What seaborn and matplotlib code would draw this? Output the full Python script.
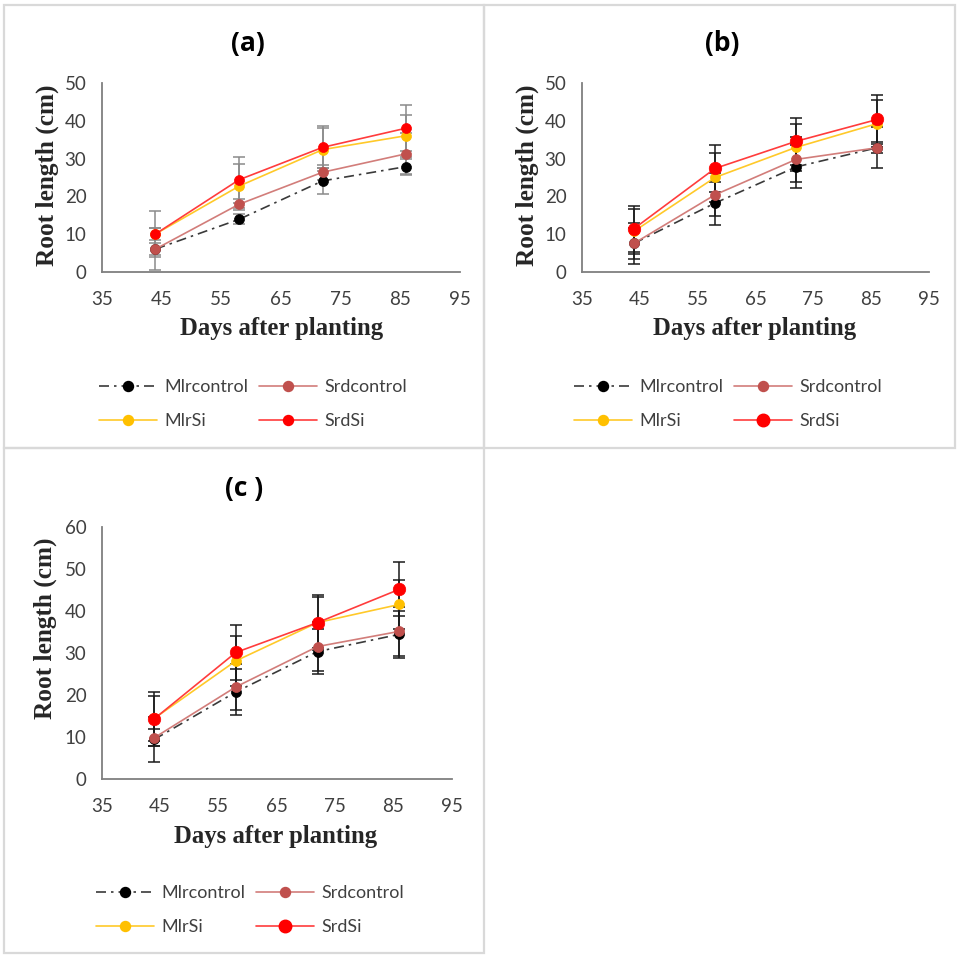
import matplotlib
matplotlib.use("Agg")
import matplotlib.pyplot as plt
from matplotlib.lines import Line2D
import seaborn as sns
import numpy as np
import pandas as pd

sns.set_style("white")
plt.rcParams['font.family'] = ['Lato', 'DejaVu Sans']

# ---------------- data ----------------
days = [44, 58, 72, 86]
series = ["Mlrcontrol", "Srdcontrol", "MlrSi", "SrdSi"]

# panel (a)
a_mlrcontrol = [6.0, 13.9, 24.1, 27.9]
a_srdcontrol = [6.0, 17.9, 26.4, 31.3]
a_mlrsi = [10.0, 22.7, 32.4, 36.1]
a_srdsi = [10.0, 24.4, 33.0, 38.1]
a_err_mlrcontrol = [1.5, 1.3, 3.5, 2.1]
a_err_srdcontrol = [5.6, 1.5, 2.0, 5.6]
a_err_mlrsi = [1.5, 5.9, 5.8, 5.6]
a_err_srdsi = [6.0, 6.1, 5.6, 6.1]

# panel (b)
b_mlrcontrol = [7.5, 18.2, 27.8, 32.9]
b_srdcontrol = [7.5, 20.4, 29.8, 32.9]
b_mlrsi = [10.7, 25.0, 33.0, 39.3]
b_srdsi = [11.4, 27.4, 34.6, 40.4]
b_err_mlrcontrol = [5.5, 5.7, 5.7, 5.5]
b_err_srdcontrol = [4.2, 5.7, 6.0, 1.4]
b_err_mlrsi = [6.0, 6.4, 6.3, 6.3]
b_err_srdsi = [6.1, 6.3, 6.3, 6.4]

# panel (c)
c_mlrcontrol = [9.4, 20.7, 30.3, 34.4]
c_srdcontrol = [9.8, 21.9, 31.5, 35.1]
c_mlrsi = [14.4, 28.1, 37.2, 41.5]
c_srdsi = [14.3, 30.1, 37.2, 45.1]
c_err_mlrcontrol = [5.4, 5.4, 5.3, 5.6]
c_err_srdcontrol = [2.0, 5.5, 5.8, 5.9]
c_err_mlrsi = [5.3, 5.9, 6.0, 5.9]
c_err_srdsi = [6.5, 6.5, 6.5, 6.4]

panel_titles = ["(a)", "(b)", "(c )"]
x_ticks = [35, 45, 55, 65, 75, 85, 95]
y_ticks_ab = [0, 10, 20, 30, 40, 50]
y_ticks_c = [0, 10, 20, 30, 40, 50, 60]

# ---------------- styles ----------------
marker_colors = {"Mlrcontrol": "#000000", "Srdcontrol": "#C0504D",
                 "MlrSi": "#FFC000", "SrdSi": "#FF0000"}
line_colors = {"Mlrcontrol": "#3a3a3a", "Srdcontrol": "#D27D7A",
               "MlrSi": "#FFC929", "SrdSi": "#FF3C3C"}
line_styles = {"Mlrcontrol": (0, (6, 3, 1.5, 3)), "Srdcontrol": "-",
               "MlrSi": "-", "SrdSi": "-"}

W, H = 957, 955
fig = plt.figure(figsize=(W / 100, H / 100), dpi=100)

def fx(px):
    return px / W

def fy(py):
    return 1 - py / H

# panel borders
border_col = "#d9d9d9"
for (x0, y0, x1, y1) in [(4, 5, 484, 448), (484, 5, 955, 448), (4, 448, 484, 953)]:
    fig.add_artist(plt.Rectangle((fx(x0), fy(y1)), fx(x1 - x0), (y1 - y0) / H,
                                 transform=fig.transFigure, fill=False,
                                 edgecolor=border_col, linewidth=1.6, zorder=0))

panels = [
    dict(vals=[a_mlrcontrol, a_srdcontrol, a_mlrsi, a_srdsi],
         errs=[a_err_mlrcontrol, a_err_srdcontrol, a_err_mlrsi, a_err_srdsi],
         ax_px=(101.7, 83.3, 460.0, 271.7), yticks=y_ticks_ab, ylim=50,
         err_color="#8a8a8a", big_srdsi=False,
         title_xy=(248, 43), ylab_xy=(47, 175), xlab_xy=(282, 329), leg_xy=(253, 404)),
    dict(vals=[b_mlrcontrol, b_srdcontrol, b_mlrsi, b_srdsi],
         errs=[b_err_mlrcontrol, b_err_srdcontrol, b_err_mlrsi, b_err_srdsi],
         ax_px=(581.7, 83.3, 929.3, 271.7), yticks=y_ticks_ab, ylim=50,
         err_color="#1a1a1a", big_srdsi=True,
         title_xy=(722, 43), ylab_xy=(527, 175), xlab_xy=(755, 329), leg_xy=(728, 404)),
    dict(vals=[c_mlrcontrol, c_srdcontrol, c_mlrsi, c_srdsi],
         errs=[c_err_mlrcontrol, c_err_srdcontrol, c_err_mlrsi, c_err_srdsi],
         ax_px=(101.7, 526.7, 451.7, 779.0), yticks=y_ticks_c, ylim=60,
         err_color="#1a1a1a", big_srdsi=True,
         title_xy=(244, 488), ylab_xy=(45, 628), xlab_xy=(276, 836), leg_xy=(250, 910)),
]

serif = ['Liberation Serif', 'DejaVu Serif']
legend_order = ["Mlrcontrol", "MlrSi", "Srdcontrol", "SrdSi"]

for title, p in zip(panel_titles, panels):
    x0, y0, x1, y1 = p["ax_px"]
    ax = fig.add_axes([fx(x0), fy(y1), fx(x1 - x0), (y1 - y0) / H])
    ax.set_facecolor("none")
    for name, vals, err in zip(series, p["vals"], p["errs"]):
        ms = 7.2
        if name == "SrdSi" and p["big_srdsi"]:
            ms = 9.0
        ax.errorbar(days, vals, yerr=err, fmt="none", ecolor=p["err_color"],
                    elinewidth=1.1, capsize=4.5, capthick=1.1, zorder=2)
        df = pd.DataFrame({"day": days, "len": vals})
        sns.lineplot(data=df, x="day", y="len", ax=ax, color=line_colors[name],
                     linewidth=1.2, linestyle=line_styles[name], marker="o",
                     markersize=ms, markerfacecolor=marker_colors[name],
                     markeredgecolor=marker_colors[name], markeredgewidth=0.5,
                     label=name, zorder=3, legend=False)
    ax.set_xlim(35, 95)
    ax.set_ylim(0, p["ylim"])
    ax.set_xticks(x_ticks)
    ax.set_yticks(p["yticks"])
    ax.set_xlabel("")
    ax.set_ylabel("")
    for s in ["top", "right"]:
        ax.spines[s].set_visible(False)
    for s in ["left", "bottom"]:
        ax.spines[s].set_color("#7f7f7f")
        ax.spines[s].set_linewidth(1.3)
    ax.tick_params(axis="both", direction="out", length=5, width=1.2,
                   color="#7f7f7f", labelsize=13.5, labelcolor="#404040")
    ax.tick_params(axis="x", pad=9)
    ax.tick_params(axis="y", pad=6)
    for ln in ax.lines:
        ln.set_clip_on(False)

    fig.text(fx(p["title_xy"][0]), fy(p["title_xy"][1]), title, ha="center",
             va="center", fontsize=19, fontweight="bold", color="#000000",
             family=['Open Sans', 'DejaVu Sans'])
    fig.text(fx(p["ylab_xy"][0]), fy(p["ylab_xy"][1]), "Root length (cm)",
             ha="center", va="center", rotation=90, fontsize=18.2,
             fontweight="bold", family=serif)
    fig.text(fx(p["xlab_xy"][0]), fy(p["xlab_xy"][1]), "Days after planting",
             ha="center", va="center", fontsize=17.8, fontweight="bold",
             family=serif)

    handles = {}
    for name in series:
        ms = 7.2
        if name == "SrdSi" and p["big_srdsi"]:
            ms = 9.0
        handles[name] = Line2D([], [], color=line_colors[name], linewidth=1.2,
                               linestyle=line_styles[name], marker="o", markersize=ms,
                               markerfacecolor=marker_colors[name],
                               markeredgecolor=marker_colors[name])
    fig.legend([handles[n] for n in legend_order], legend_order, loc="center",
               bbox_to_anchor=(fx(p["leg_xy"][0]), fy(p["leg_xy"][1])),
               ncol=2, frameon=False, fontsize=13, handlelength=3.2,
               handletextpad=0.4, columnspacing=0.6, labelspacing=1.0,
               borderpad=0, numpoints=1, labelcolor="#404040")

fig.savefig("out.png", dpi=100, facecolor="white")
